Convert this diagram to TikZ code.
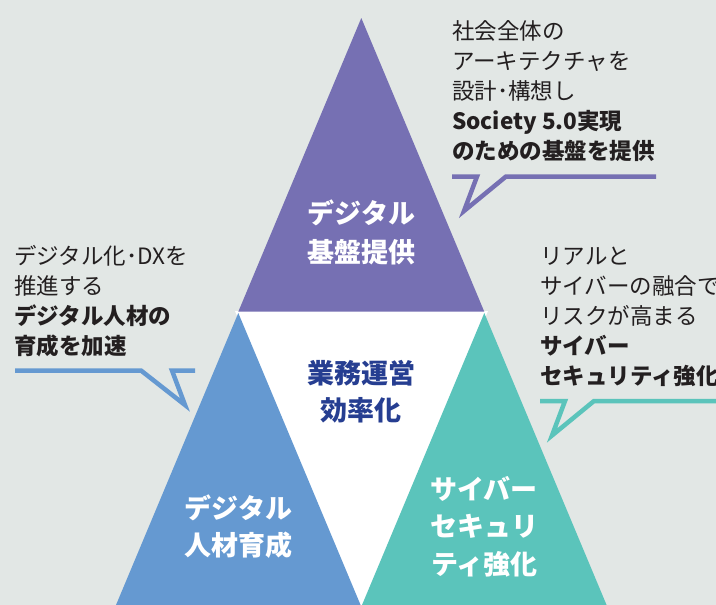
\documentclass[tikz,border=0pt]{standalone}
\usepackage{fontspec}
\setmainfont{Noto Sans CJK JP}
\definecolor{bg}{HTML}{E2E7E5}
\definecolor{cpurple}{HTML}{7670B3}
\definecolor{cblue}{HTML}{6599D1}
\definecolor{cteal}{HTML}{5BC4BB}
\definecolor{cnavy}{HTML}{263E91}
\definecolor{ctxt}{HTML}{231F20}
\begin{document}
\begin{tikzpicture}[x=1pt,y=-1pt,
  lbl/.style={font=\fontsize{22.5}{30}\selectfont, text=ctxt, inner sep=0pt, anchor=base west},
  blbl/.style={font=\fontsize{22.5}{30}\selectfont\bfseries, text=ctxt, inner sep=0pt, anchor=base west},
  trilbl/.style={font=\fontsize{27}{38}\selectfont\bfseries, text=white, inner sep=0pt, anchor=base},
  midlbl/.style={font=\fontsize{27}{38}\selectfont\bfseries, text=cnavy, inner sep=0pt, anchor=base},
  callout/.style={line width=4.5pt, line join=miter, miter limit=10}
]
\useasboundingbox (0,0) rectangle (716,605);
\clip (0,0) rectangle (716,605);
\fill[bg] (0,0) rectangle (716,605);

% triangles
\fill[white] (235,311) -- (488,311) -- (361.3,612) -- cycle;
\fill[cpurple] (361.3,18) -- (238.3,311.7) -- (484.3,311.7) -- cycle;
\fill[cblue] (238.3,313) -- (115.3,606.7) -- (361.3,606.7) -- cycle;
\fill[cteal] (484.3,313) -- (361.3,606.7) -- (607.3,606.7) -- cycle;

% triangle labels
\node[trilbl] (p1) at (361.7,223.3) {デジタル};
\node[trilbl] (p2) at (361.7,262.3) {基盤提供};
\node[midlbl] (m1) at (361,383.3) {業務運営};
\node[midlbl] (m2) at (361,420.3) {効率化};
\node[trilbl] (b1) at (238.3,518.3) {デジタル};
\node[trilbl] (b2) at (238.3,555.8) {人材育成};
\node[trilbl] (t1) at (484.2,499.3) {サイバー};
\node[trilbl] (t2) at (484.2,536.3) {セキュリ};
\node[trilbl] (t3) at (484.2,574.3) {ティ強化};

% top right callout
\node[lbl]  (a1) at (452,39)  {社会全体の};
\node[lbl]  (a2) at (452,69)  {アーキテクチャを};
\node[lbl]  (a3) at (452,99)  {設計･構想し};
\node[blbl] (a4) at (452,129) {Society 5.0実現};
\node[blbl] (a5) at (452,159) {のための基盤を提供};
\draw[callout, cpurple] (452,176.5) -- (477,176.5) -- (464,211) -- (506,176.5) -- (656,176.5);

% left callout
\node[lbl]  (l1) at (14,264)  {デジタル化･DXを};
\node[lbl]  (l2) at (14,294)  {推進する};
\node[blbl] (l3) at (14,324)  {デジタル人材の};
\node[blbl] (l4) at (14,354)  {育成を加速};
\draw[callout, cblue] (15,370.5) -- (141,370.5) -- (185,405) -- (172,370.5) -- (195,370.5);

% right callout
\node[lbl]  (r1) at (540,264) {リアルと};
\node[lbl]  (r2) at (540,294) {サイバーの融合で};
\node[lbl]  (r3) at (540,324) {リスクが高まる};
\node[blbl] (r4) at (540,354) {サイバー};
\node[blbl] (r5) at (540,384) {セキュリティ強化};
\draw[callout, cteal] (540,401) -- (565,401) -- (552,435.5) -- (594,401) -- (720,401);
\end{tikzpicture}
\end{document}
